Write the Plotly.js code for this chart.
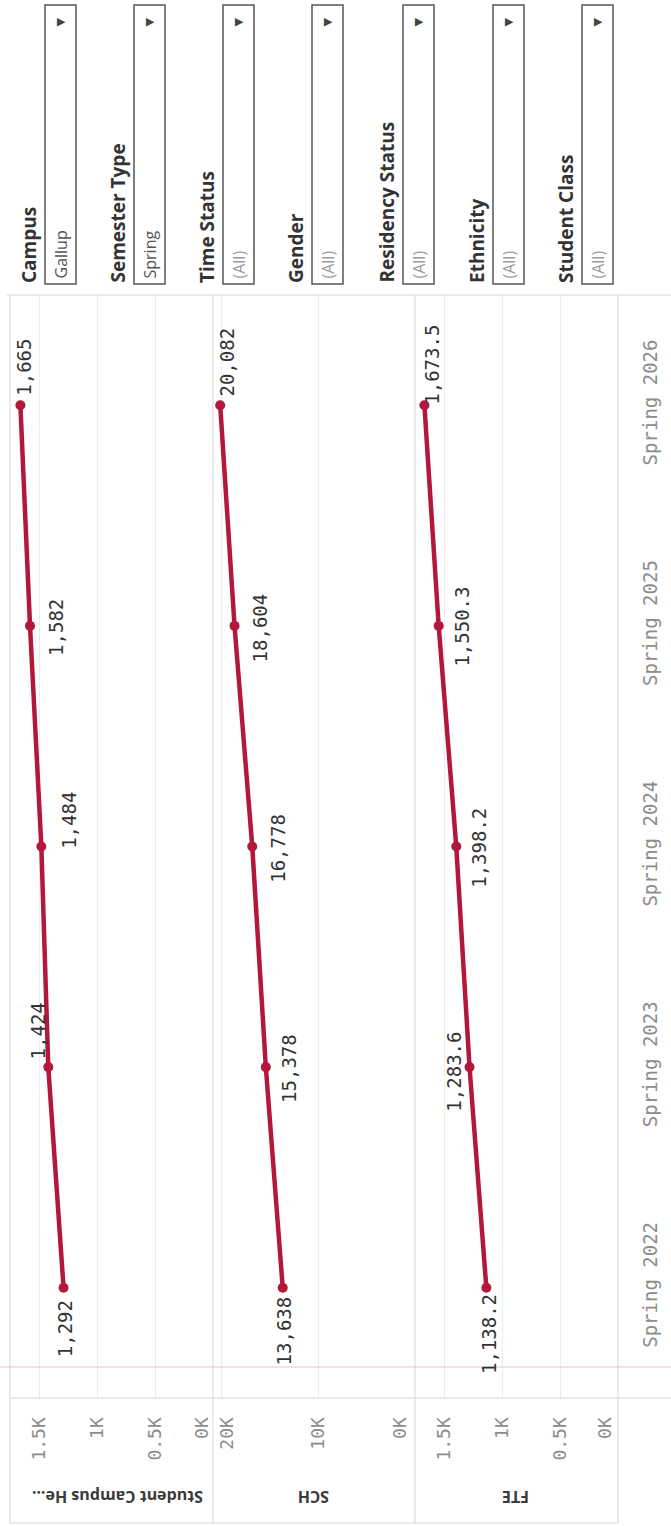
<!DOCTYPE html>
<html>
<head>
<meta charset="utf-8">
<script src="https://cdn.plot.ly/plotly-3.0.1.min.js"></script>
<style>html,body{margin:0;padding:0;background:#fff;}#chart{width:671px;height:1526px;}</style>
</head>
<body>
<div id="chart"></div>
<script>
// ---------- data ----------
const semesters = ['Spring 2022', 'Spring 2023', 'Spring 2024', 'Spring 2025', 'Spring 2026'];
const headcount = [1292, 1424, 1484, 1582, 1665];
const sch = [13638, 15378, 16778, 18604, 20082];
const fte = [1138.2, 1283.6, 1398.2, 1550.3, 1673.5];
const measureNames = ['Student Campus He...', 'SCH', 'FTE'];
const kTickVals = [500, 1000, 1500];
const kTickText = ['0.5K', '1K', '1.5K'];
const schMidTickVals = [10000];
const schMidTickText = ['10K'];
const schTopTickVals = [20000];
const schTopTickText = ['20K'];
const zeroTickText = ['0K'];
const filterNames = ['Campus', 'Semester Type', 'Time Status', 'Gender', 'Residency Status', 'Ethnicity', 'Student Class'];
const filterValues = ['Gallup', 'Spring', '(All)', '(All)', '(All)', '(All)', '(All)'];

// ---------- style / geometry ----------
const W = 671, H = 1526;
const L = 10, R = 618, T = 295, B = 1398;
const PW = R - L, PH = B - T;
const px = v => (v - L) / PW;
const py = v => (B - v) / PH;
const lineColor = '#b3183b';
const gridColor = '#ececec';
const borderColor = '#d6d6d6';
const monoFont = 'DejaVu Sans Mono, monospace';
const sansFont = 'Open Sans, DejaVu Sans, sans-serif';
const d1 = [px(10), px(213)], d2 = [px(213), px(415)], d3 = [px(415), px(618)];
const r1 = [1755, 0], r2 = [20825, 0], r3 = [1755, 0];

// label offsets in px (dx right, dy down)
const off1 = [[1, 41], [-10, -36], [27, -26], [26, 2], [4, -38]];
const off2 = [[1, 43], [23, 1], [25, 2], [25, 2], [7, -43]];
const off3 = [[2, 46], [-15, 5], [22, 1], [23, 1], [8, -41]];

const series = [
  {vals: headcount, xa: 'x', off: off1},
  {vals: sch, xa: 'x2', off: off2},
  {vals: fte, xa: 'x3', off: off3}
];

const traces = series.map(s => ({
  type: 'scatter', mode: 'lines+markers',
  x: s.vals, y: semesters, xaxis: s.xa, yaxis: 'y',
  line: {color: lineColor, width: 4.5},
  marker: {color: lineColor, size: 10},
  hoverinfo: 'skip', showlegend: false
}));
// empty traces so the overlay axes carrying the edge tick labels get drawn
['x4', 'x5', 'x6', 'x7'].forEach(xa => traces.push({
  type: 'scatter', mode: 'markers', x: [], y: [], xaxis: xa, yaxis: 'y',
  hoverinfo: 'skip', showlegend: false
}));

const annotations = [];
series.forEach(s => {
  s.vals.forEach((v, i) => {
    annotations.push({
      x: v, y: semesters[i], xref: s.xa, yref: 'y',
      xanchor: 'center', yanchor: 'middle',
      text: v.toLocaleString('en-US'), textangle: -90, showarrow: false,
      xshift: s.off[i][0], yshift: -s.off[i][1],
      font: {family: monoFont, size: 19, color: '#333'}
    });
  });
});

// measure titles (upside-down)
const titleCenters = [118, 314, 516];
measureNames.forEach((n, i) => {
  annotations.push({
    x: px(titleCenters[i]), y: py(1497), xref: 'paper', yref: 'paper',
    xanchor: 'center', yanchor: 'middle',
    text: '<b>' + n + '</b>', textangle: 180, showarrow: false,
    font: {family: sansFont, size: 16, color: '#3a3a3a'}
  });
});

// filter panel
const shapes = [];
const boxLefts = [45, 134, 223, 312, 403, 493, 582];
const boxW = 31, boxTop = 5, boxBottom = 284;
filterNames.forEach((n, i) => {
  const bl = boxLefts[i];
  shapes.push({type: 'rect', xref: 'paper', yref: 'paper',
    x0: px(bl), x1: px(bl + boxW), y0: py(boxBottom), y1: py(boxTop),
    line: {color: '#555', width: 1.5}, fillcolor: 'rgba(0,0,0,0)'});
  annotations.push({
    x: px(bl - 16), y: py(boxBottom + 1), xref: 'paper', yref: 'paper',
    xanchor: 'center', yanchor: 'bottom',
    text: '<b>' + n + '</b>', textangle: -90, showarrow: false,
    font: {family: sansFont, size: 19, color: '#333'}
  });
  annotations.push({
    x: px(bl + boxW / 2), y: py(boxBottom - 3), xref: 'paper', yref: 'paper',
    xanchor: 'center', yanchor: 'bottom',
    text: filterValues[i], textangle: -90, showarrow: false,
    font: {family: sansFont, size: 16, color: filterValues[i] === '(All)' ? '#9a9a9a' : '#555'}
  });
  annotations.push({
    x: px(bl + boxW / 2), y: py(22), xref: 'paper', yref: 'paper',
    xanchor: 'center', yanchor: 'middle',
    text: '▼', textangle: -90, showarrow: false,
    font: {family: 'DejaVu Sans', size: 11, color: '#444'}
  });
});

// frame lines
const hline = (y, x0, x1, c, w) => ({type: 'line', xref: 'paper', yref: 'paper', x0: px(x0), x1: px(x1), y0: py(y), y1: py(y), line: {color: c || borderColor, width: w || 1}});
const vline = (x, y0, y1) => ({type: 'line', xref: 'paper', yref: 'paper', x0: px(x), x1: px(x), y0: py(y0), y1: py(y1), line: {color: borderColor, width: 1}});
shapes.push(hline(295, 7, 671));
shapes.push(hline(1398, 10, 671));
shapes.push(hline(1523, 10, 618));
[10, 213, 415, 618].forEach(x => shapes.push(vline(x, 295, 1523)));
shapes.push(hline(1367, 0, 671, 'rgba(232,160,215,0.7)', 1));

const tickFont = {family: monoFont, size: 18, color: '#8c8c8c'};
const baseX = {
  anchor: 'y', tickangle: -90, showgrid: true, gridcolor: gridColor, gridwidth: 1,
  zeroline: false, showline: false, ticks: 'outside', ticklen: 11,
  tickcolor: 'rgba(0,0,0,0)', tickfont: tickFont, fixedrange: true
};
const edgeX = (ov, rng, vals, text, shift) => ({
  overlaying: ov, anchor: 'y', range: rng, tickvals: vals, ticktext: text,
  tickangle: -90, showgrid: false, zeroline: false, showline: false,
  ticks: 'outside', ticklen: 11, tickcolor: 'rgba(0,0,0,0)', tickfont: tickFont,
  ticklabelshift: shift, fixedrange: true
});

const layout = {
  width: W, height: H,
  margin: {l: L, r: W - R, t: T, b: H - B, pad: 0},
  paper_bgcolor: '#fff', plot_bgcolor: '#fff',
  showlegend: false,
  xaxis: Object.assign({}, baseX, {domain: d1, range: r1, tickvals: kTickVals, ticktext: kTickText}),
  xaxis2: Object.assign({}, baseX, {domain: d2, range: r2, tickvals: schMidTickVals.concat(schTopTickVals), ticktext: ['', ''], showticklabels: true}),
  xaxis3: Object.assign({}, baseX, {domain: d3, range: r3, tickvals: kTickVals, ticktext: kTickText}),
  xaxis4: edgeX('x', r1, [0], zeroTickText, 11),
  xaxis5: edgeX('x2', r2, [0].concat(schMidTickVals), zeroTickText.concat(schMidTickText), 0),
  xaxis6: edgeX('x3', r3, [0], zeroTickText, 13),
  xaxis7: edgeX('x2', r2, schTopTickVals, schTopTickText, -6),
  yaxis: {
    type: 'category', categoryorder: 'array', categoryarray: semesters,
    range: [-0.5, 4.5], side: 'right', anchor: 'x3', tickangle: -90,
    showgrid: false, zeroline: false, showline: false,
    ticks: 'outside', ticklen: 15, tickcolor: 'rgba(0,0,0,0)',
    tickfont: {family: monoFont, size: 19, color: '#8c8c8c'}, fixedrange: true
  },
  shapes: shapes,
  annotations: annotations
};
// the SCH zero label needs its own shift: separate overlay
layout.xaxis5 = edgeX('x2', r2, [0], zeroTickText, 15);
layout.xaxis8 = edgeX('x2', r2, schMidTickVals, schMidTickText, 0);
traces.push({type: 'scatter', mode: 'markers', x: [], y: [], xaxis: 'x8', yaxis: 'y', hoverinfo: 'skip', showlegend: false});

Plotly.newPlot('chart', traces, layout, {displayModeBar: false, staticPlot: true});
</script>
</body>
</html>
